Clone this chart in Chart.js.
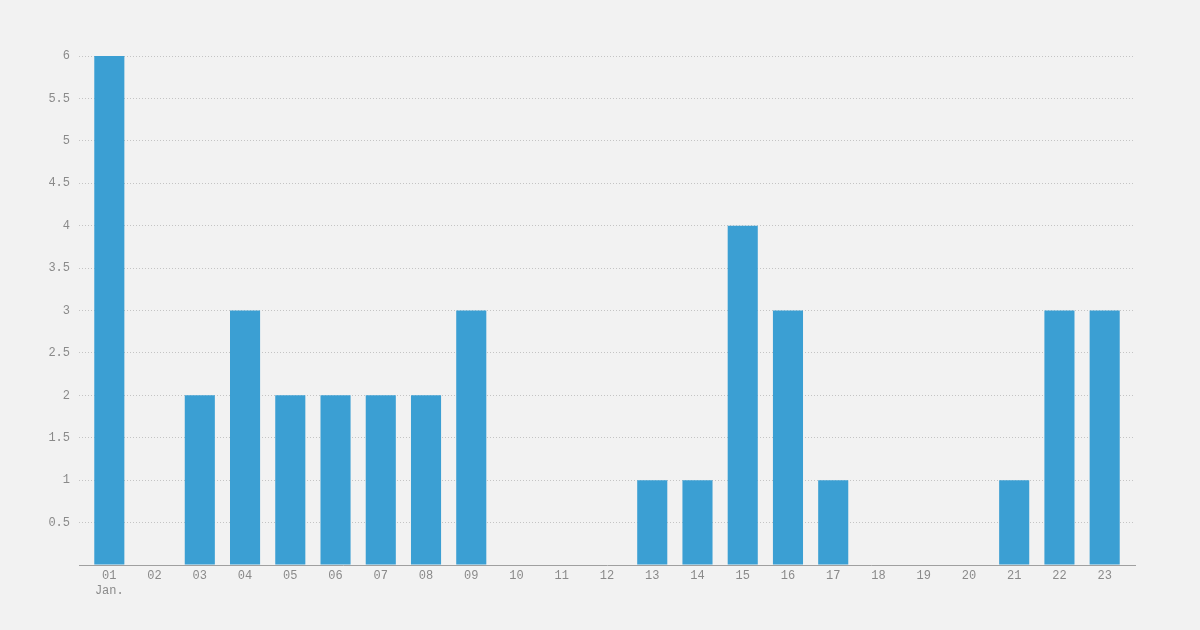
<!DOCTYPE html>
<html>
<head>
<meta charset="utf-8">
<script src="https://cdn.jsdelivr.net/npm/chart.js@4/dist/chart.umd.min.js"></script>
<style>
html,body{margin:0;padding:0;background:#f2f2f2;}
#wrap{width:1200px;height:630px;position:relative;}
</style>
</head>
<body>
<div id="wrap"><canvas id="c" width="1200" height="630"></canvas></div>
<script>
const days = ['01','02','03','04','05','06','07','08','09','10','11','12','13','14','15','16','17','18','19','20','21','22','23'];
const monthLabel = 'Jan.';
const counts = [6,0,2,3,2,2,2,2,3,0,0,0,1,1,4,3,1,0,0,0,1,3,3];
const yTicks = [0,0.5,1,1.5,2,2.5,3,3.5,4,4.5,5,5.5,6];

const points = counts.map((v,i)=>({x:i+1,y:v}));
const tickColor = '#8a8a8a';
const fontFam = '"Liberation Mono", "DejaVu Sans Mono", monospace';

new Chart(document.getElementById('c'), {
  type: 'bar',
  data: {
    datasets: [{
      data: points,
      backgroundColor: '#3b9fd3',
      borderWidth: 0,
      categoryPercentage: 1,
      barPercentage: 0.665
    }]
  },
  options: {
    responsive: false,
    animation: false,
    layout: {padding: {top: 56, right: 65, bottom: 0, left: 0}},
    plugins: {legend: {display: false}, tooltip: {enabled: false}},
    scales: {
      x: {
        type: 'linear',
        offset: false,
        min: 0.33,
        max: 23.67,
        afterBuildTicks: s => { s.ticks = days.map((_,i)=>({value:i+1})); },
        afterFit: s => { s.height = 65; },
        grid: {display: false, drawTicks: false},
        border: {display: true, color: '#a0a0a0', width: 1},
        ticks: {
          color: tickColor,
          font: {family: fontFam, size: 12},
          padding: 4,
          maxRotation: 0,
          autoSkip: false,
          callback: (v) => {
            const i = Math.round(v) - 1;
            if (i === 0) return [days[0], monthLabel];
            return days[i];
          }
        }
      },
      y: {
        min: 0,
        max: 6,
        afterBuildTicks: s => { s.ticks = yTicks.map(v=>({value:v})); },
        afterFit: s => { s.width = 79; },
        border: {display: false, dash: [1,2]},
        grid: {
          drawTicks: false,
          color: ctx => ctx.tick && ctx.tick.value === 0 ? 'rgba(0,0,0,0)' : '#c4c4c4',
          lineWidth: 1
        },
        ticks: {
          color: tickColor,
          font: {family: fontFam, size: 12},
          padding: 9,
          callback: v => v === 0 ? '' : String(v)
        }
      }
    }
  }
});
</script>
</body>
</html>
